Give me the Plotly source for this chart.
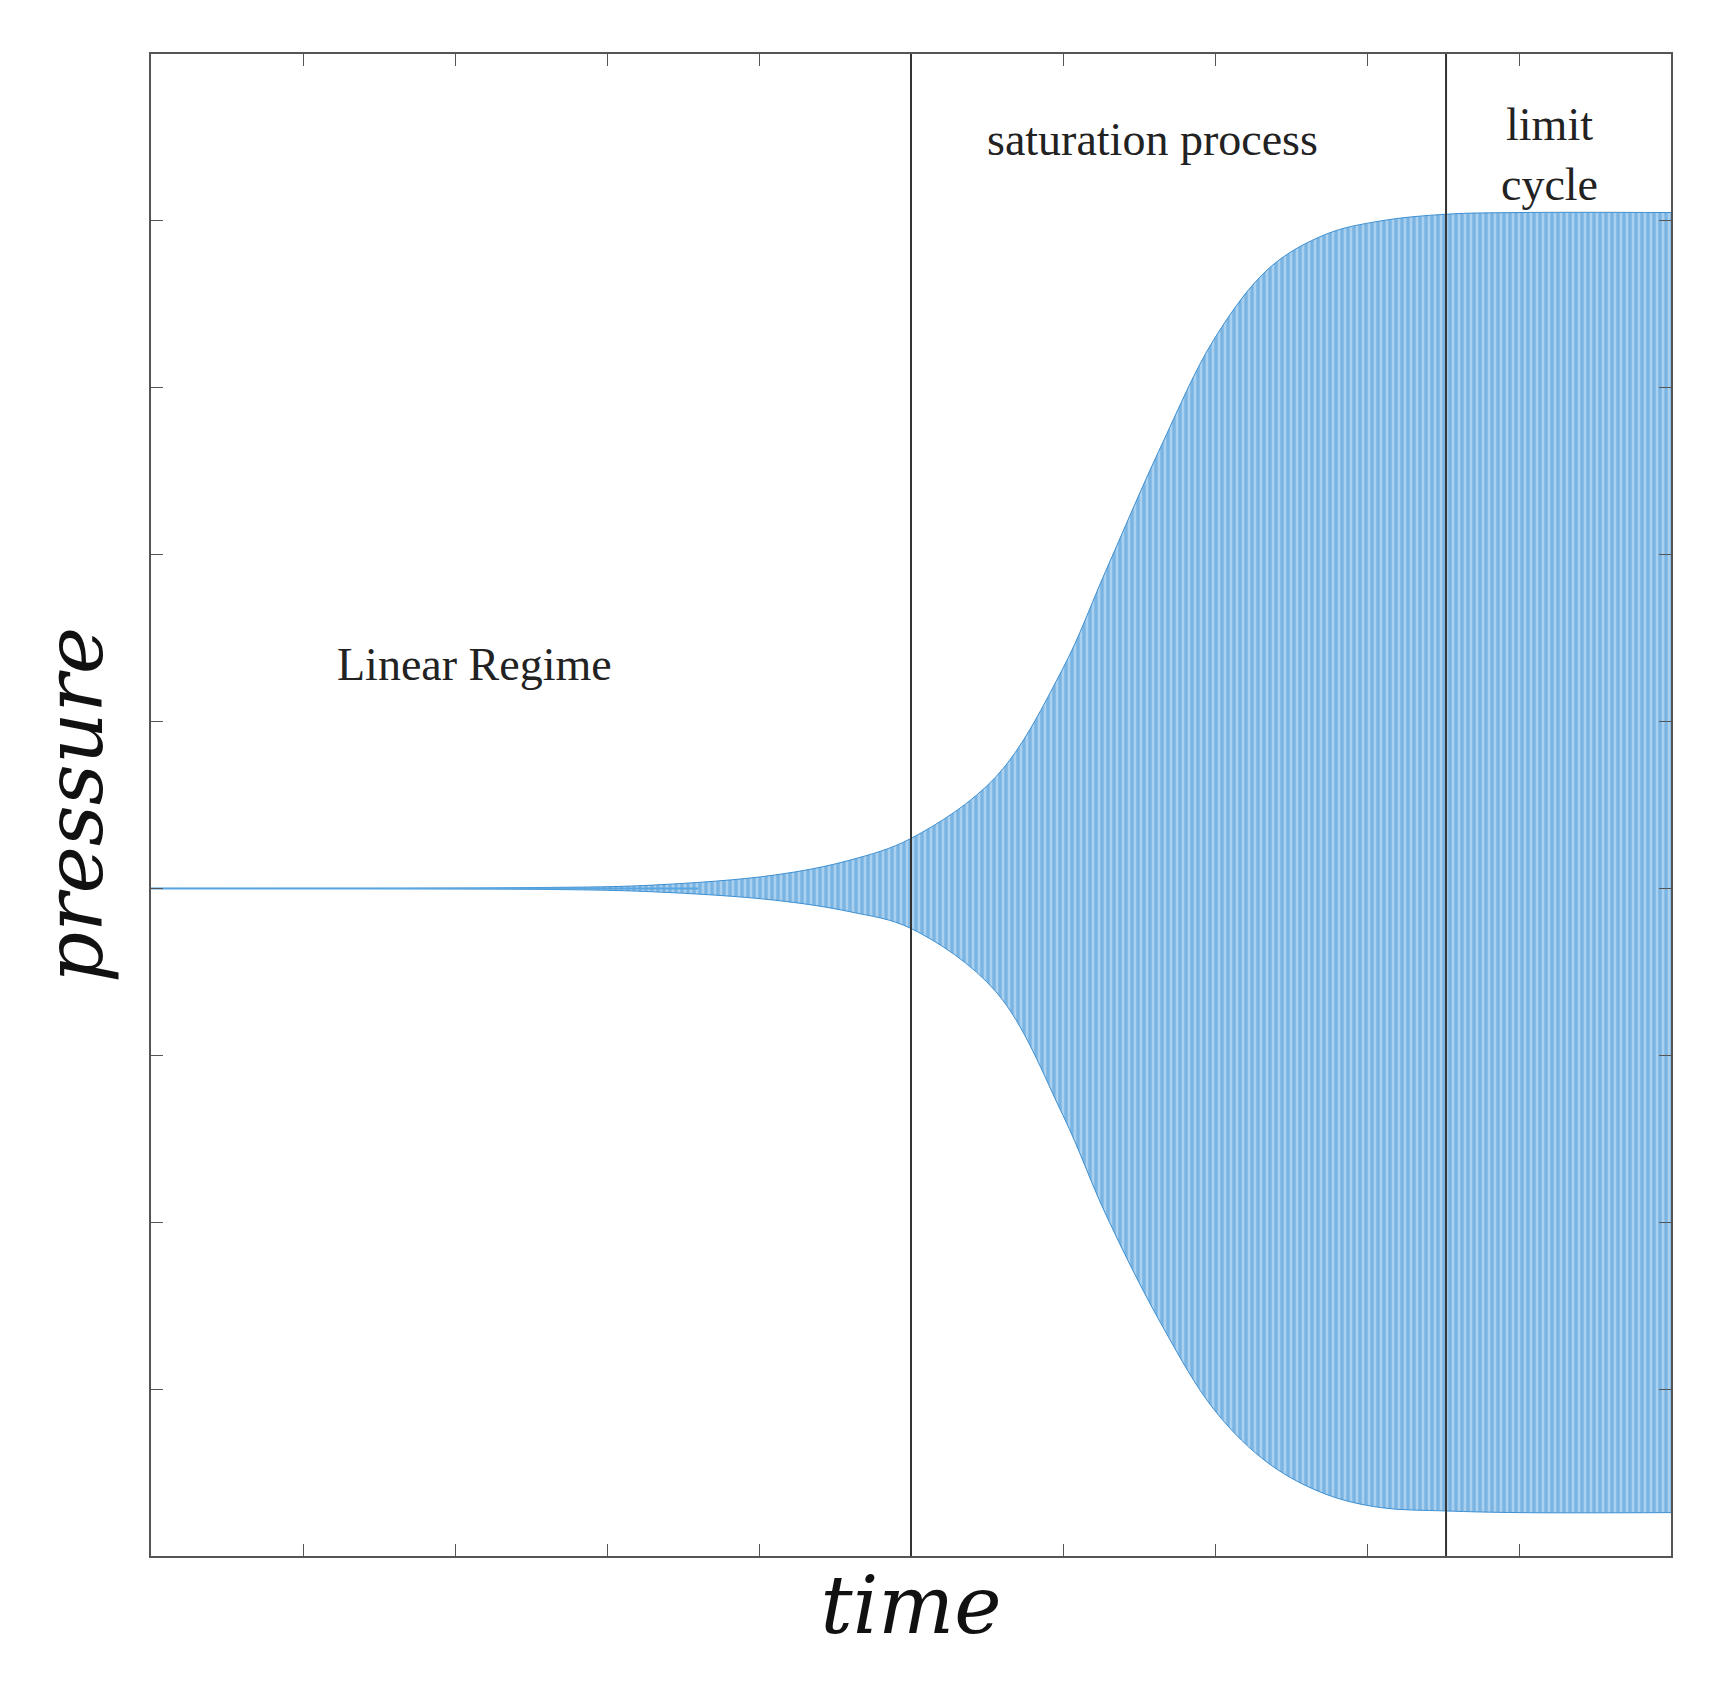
import plotly.graph_objects as go

# envelope of the pressure oscillation
t_env = [0.0, 2.5, 3.3, 4.1, 4.6, 5.0, 5.56, 6.0, 6.28, 6.64, 7.0, 7.36, 7.73, 8.09, 8.52, 9.0, 10.0]
upper = [0.0, 0.005, 0.02, 0.08, 0.17, 0.30, 0.67, 1.32, 1.90, 2.64, 3.30, 3.72, 3.92, 4.00, 4.04, 4.05, 4.05]
lower = [0.0, -0.005, -0.02, -0.07, -0.14, -0.24, -0.62, -1.36, -1.95, -2.60, -3.13, -3.45, -3.63, -3.71, -3.73, -3.74, -3.74]

regime_x = [5.0, 8.52]
labels = [("Linear Regime", 2.13, 1.34), ("saturation process", 6.59, 4.49),
          ("limit<br>cycle", 9.2, 4.4)]

blue = "#3d8fd1"
fig = go.Figure()
fig.add_trace(go.Scatter(x=t_env, y=lower, mode="lines", line=dict(color=blue, width=1, shape="spline"),
                         showlegend=False))
fig.add_trace(go.Scatter(x=t_env, y=upper, mode="lines", line=dict(color=blue, width=1, shape="spline"),
                         fill="tonexty", fillcolor="#8cc0e8",
                         fillpattern=dict(shape="|", fgcolor="#4a97d6", bgcolor="#a9d0ef", size=6, solidity=0.55),
                         showlegend=False))
fig.add_trace(go.Scatter(x=[0, 3.6], y=[0, 0], mode="lines", line=dict(color="#5aa6e0", width=2),
                         showlegend=False))

for xv in regime_x:
    fig.add_shape(type="line", x0=xv, x1=xv, y0=-4, y1=5, line=dict(color="#333333", width=2))

for txt, x, y in labels:
    fig.add_annotation(x=x, y=y, text=txt, showarrow=False,
                       font=dict(family="Liberation Serif", size=46, color="#222222"))

axis = dict(showgrid=False, zeroline=False, showticklabels=False, showline=True, mirror="allticks",
            linecolor="#555555", linewidth=2, ticks="inside", ticklen=12, tickcolor="#555555", dtick=1)
fig.update_xaxes(range=[0, 10], tick0=0, **axis,
                 title=dict(text="<i>time</i>", font=dict(family="DejaVu Serif", size=80, color="#111111"),
                            standoff=20))
fig.update_yaxes(range=[-4, 5], tick0=-4, **axis,
                 title=dict(text="<i>pressure</i>", font=dict(family="DejaVu Serif", size=80, color="#111111"),
                            standoff=20))
fig.update_layout(width=1720, height=1704, plot_bgcolor="white", paper_bgcolor="white",
                  margin=dict(l=143, r=57, t=46, b=156))
fig.write_html("out.html")
